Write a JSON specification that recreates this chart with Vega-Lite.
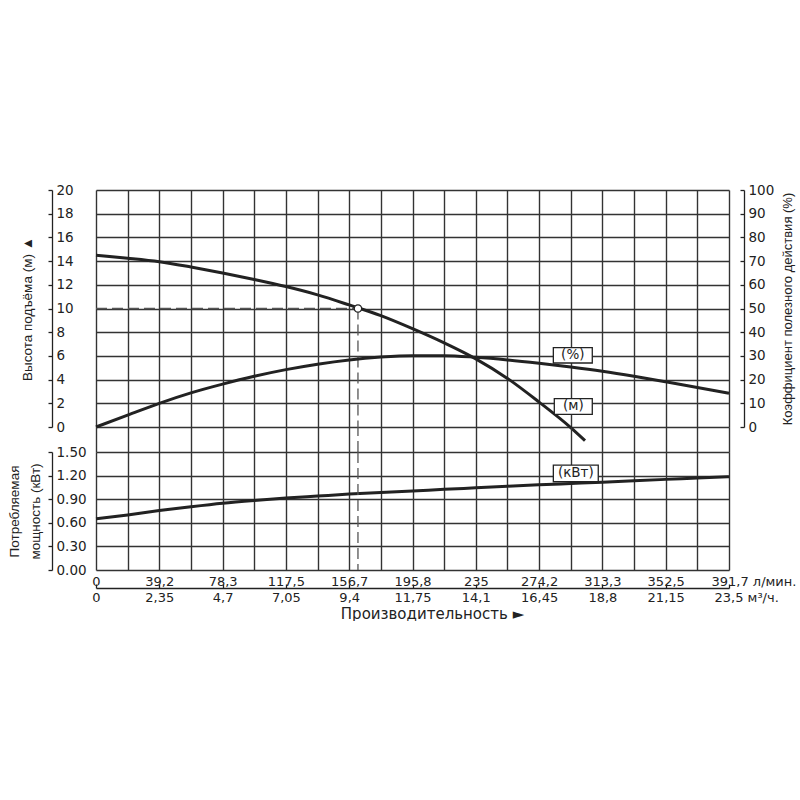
{
  "$schema": "https://vega.github.io/schema/vega-lite/v6.json",
  "background": "white",
  "padding": {"left": 7, "top": 183, "right": 0, "bottom": 0},
  "datasets": {
    "head": [
      {"flow": 0, "head": 14.5}, {"flow": 19.585, "head": 14.25}, {"flow": 39.17, "head": 13.95},
      {"flow": 58.755, "head": 13.5}, {"flow": 78.34, "head": 13.0}, {"flow": 97.925, "head": 12.45},
      {"flow": 117.51, "head": 11.85}, {"flow": 137.095, "head": 11.15}, {"flow": 156.68, "head": 10.3},
      {"flow": 176.265, "head": 9.4}, {"flow": 195.85, "head": 8.3}, {"flow": 215.435, "head": 7.1},
      {"flow": 235.02, "head": 5.75}, {"flow": 254.605, "head": 4.1}, {"flow": 274.19, "head": 2.1},
      {"flow": 293.775, "head": -0.05}, {"flow": 302.6, "head": -1.15}
    ],
    "eff": [
      {"flow": 0, "eff": 0}, {"flow": 19.585, "eff": 5.0}, {"flow": 39.17, "eff": 10.0},
      {"flow": 58.755, "eff": 14.4}, {"flow": 78.34, "eff": 18.1}, {"flow": 97.925, "eff": 21.4},
      {"flow": 117.51, "eff": 24.2}, {"flow": 137.095, "eff": 26.5}, {"flow": 156.68, "eff": 28.3},
      {"flow": 176.265, "eff": 29.5}, {"flow": 195.85, "eff": 30.1}, {"flow": 215.435, "eff": 30.1},
      {"flow": 235.02, "eff": 29.4}, {"flow": 254.605, "eff": 28.3}, {"flow": 274.19, "eff": 26.9},
      {"flow": 293.775, "eff": 25.3}, {"flow": 313.36, "eff": 23.5}, {"flow": 332.945, "eff": 21.4},
      {"flow": 352.53, "eff": 19.1}, {"flow": 372.115, "eff": 16.7}, {"flow": 391.7, "eff": 14.2}
    ],
    "power": [
      {"flow": 0, "kw": 0.65}, {"flow": 19.585, "kw": 0.7}, {"flow": 39.17, "kw": 0.755},
      {"flow": 58.755, "kw": 0.805}, {"flow": 78.34, "kw": 0.85}, {"flow": 97.925, "kw": 0.885},
      {"flow": 117.51, "kw": 0.915}, {"flow": 137.095, "kw": 0.94}, {"flow": 156.68, "kw": 0.965},
      {"flow": 176.265, "kw": 0.985}, {"flow": 195.85, "kw": 1.005}, {"flow": 215.435, "kw": 1.025},
      {"flow": 235.02, "kw": 1.045}, {"flow": 254.605, "kw": 1.065}, {"flow": 274.19, "kw": 1.083},
      {"flow": 293.775, "kw": 1.1}, {"flow": 313.36, "kw": 1.117}, {"flow": 332.945, "kw": 1.135},
      {"flow": 352.53, "kw": 1.152}, {"flow": 372.115, "kw": 1.168}, {"flow": 391.7, "kw": 1.185}
    ],
    "duty_h": [{"flow": 0, "flow2": 162.1, "head": 10}],
    "duty_v": [{"flow": 162.1, "head": 10, "head2": 0}],
    "duty_pt": [{"flow": 162.1, "head": 10}],
    "duty_gap": [{"flow": 162.1, "g": 0, "g2": 1}],
    "duty_kw": [{"flow": 162.1, "kw": 1.5, "kw2": 0}],
    "box_top": [
      {"flow": 283.0, "flow2": 307.1, "head": 6.7, "head2": 5.4},
      {"flow": 283.6, "flow2": 307.1, "head": 2.4, "head2": 1.07}
    ],
    "text_top": [
      {"flow": 295.05, "head": 6.05, "label": "(%)"},
      {"flow": 295.35, "head": 1.73, "label": "(м)"}
    ],
    "box_kw": [{"flow": 283.0, "flow2": 310.8, "kw": 1.334, "kw2": 1.122}],
    "text_kw": [{"flow": 296.9, "kw": 1.228, "label": "(кВт)"}]
  },
  "vconcat": [
    {
      "width": 633,
      "height": 237,
      "encoding": {
        "x": {
          "field": "flow", "type": "quantitative",
          "scale": {"domain": [0, 391.7], "nice": false, "zero": false},
          "axis": {
            "title": null, "labels": false, "ticks": false, "domain": false, "grid": true,
            "values": [0, 19.585, 39.17, 58.755, 78.34, 97.925, 117.51, 137.095, 156.68, 176.265, 195.85, 215.435, 235.02, 254.605, 274.19, 293.775, 313.36, 332.945, 352.53, 372.115, 391.7]
          }
        }
      },
      "layer": [
        {
          "encoding": {
            "y": {
              "field": "head", "type": "quantitative",
              "scale": {"domain": [0, 20], "nice": false, "zero": false},
              "axis": {
                "orient": "left", "offset": 44, "values": [0, 2, 4, 6, 8, 10, 12, 14, 16, 18, 20],
                "grid": true, "tickSize": 4, "labelAlign": "left", "labelPadding": -8,
                "labelFlush": false, "labelOverlap": false,
                "title": "Высота подъёма (м) ▲", "titlePadding": 13
              }
            }
          },
          "layer": [
            {
              "data": {"name": "duty_h"},
              "mark": {"type": "rule", "color": "#555", "strokeWidth": 1.3, "strokeDash": [11, 5]},
              "encoding": {"x2": {"field": "flow2"}}
            },
            {
              "data": {"name": "duty_v"},
              "mark": {"type": "rule", "color": "#555", "strokeWidth": 1.3, "strokeDash": [11, 5]},
              "encoding": {"y2": {"field": "head2"}}
            },
            {
              "data": {"name": "head"},
              "mark": {"type": "line", "interpolate": "monotone", "color": "#222", "strokeWidth": 3}
            },
            {
              "data": {"name": "duty_pt"},
              "mark": {"type": "point", "shape": "circle", "filled": true, "fill": "white", "stroke": "#222", "strokeWidth": 1.3, "size": 55, "opacity": 1}
            },
            {
              "data": {"name": "box_top"},
              "mark": {"type": "rect", "fill": "white", "stroke": "#222", "strokeWidth": 1.3},
              "encoding": {"x2": {"field": "flow2"}, "y2": {"field": "head2"}}
            },
            {
              "data": {"name": "text_top"},
              "mark": {"type": "text", "font": "DejaVu Sans", "fontSize": 13.5, "color": "#222"},
              "encoding": {"text": {"field": "label"}}
            }
          ]
        },
        {
          "data": {"name": "eff"},
          "mark": {"type": "line", "interpolate": "monotone", "color": "#222", "strokeWidth": 3},
          "encoding": {
            "y": {
              "field": "eff", "type": "quantitative",
              "scale": {"domain": [0, 100], "nice": false, "zero": false},
              "axis": {
                "orient": "right", "offset": 15, "values": [0, 10, 20, 30, 40, 50, 60, 70, 80, 90, 100],
                "grid": false, "tickSize": -4, "labelPadding": 8, "labelAlign": "left",
                "labelFlush": false, "labelOverlap": false,
                "title": "Коэффициент полезного действия (%)", "titleAngle": 270, "titleBaseline": "top",
                "titlePadding": 8, "titleFontSize": 13
              }
            }
          }
        }
      ],
      "resolve": {"scale": {"y": "independent"}, "axis": {"y": "independent"}}
    },
    {
      "width": 633,
      "height": 25,
      "data": {"name": "duty_gap"},
      "mark": {"type": "rule", "color": "#555", "strokeWidth": 1.3, "strokeDash": [11, 5]},
      "encoding": {
        "x": {
          "field": "flow", "type": "quantitative",
          "scale": {"domain": [0, 391.7], "nice": false, "zero": false},
          "axis": {
            "title": null, "labels": false, "ticks": false, "domain": false, "grid": true,
            "values": [0, 19.585, 39.17, 58.755, 78.34, 97.925, 117.51, 137.095, 156.68, 176.265, 195.85, 215.435, 235.02, 254.605, 274.19, 293.775, 313.36, 332.945, 352.53, 372.115, 391.7]
          }
        },
        "y": {"field": "g", "type": "quantitative", "scale": {"domain": [0, 1], "nice": false}, "axis": null},
        "y2": {"field": "g2"}
      }
    },
    {
      "width": 633,
      "height": 118,
      "encoding": {
        "y": {
          "field": "kw", "type": "quantitative",
          "scale": {"domain": [0, 1.5], "nice": false, "zero": false},
          "axis": {
            "orient": "left", "offset": 44, "values": [0, 0.3, 0.6, 0.9, 1.2, 1.5], "format": ".2f",
            "grid": true, "tickSize": 4, "labelAlign": "left", "labelPadding": -8,
            "labelFlush": false, "labelOverlap": false,
            "title": ["Потребляемая", "мощность (кВт)"], "titleLineHeight": 21, "titlePadding": 5
          }
        }
      },
      "layer": [
        {
          "data": {"name": "power"},
          "mark": {"type": "line", "interpolate": "monotone", "color": "#222", "strokeWidth": 3},
          "encoding": {
            "x": {
              "field": "flow", "type": "quantitative",
              "scale": {"domain": [0, 391.7], "nice": false, "zero": false},
              "axis": {
                "title": null, "ticks": false, "domain": false, "grid": true, "labelPadding": 5,
                "labelFlush": false, "labelOverlap": false, "labelFontSize": 13,
                "values": [0, 19.585, 39.17, 58.755, 78.34, 97.925, 117.51, 137.095, 156.68, 176.265, 195.85, 215.435, 235.02, 254.605, 274.19, 293.775, 313.36, 332.945, 352.53, 372.115, 391.7],
                "labelExpr": "round(datum.index*20) % 2 ? '' : ['0','39,2','78,3','117,5','156,7','195,8','235','274,2','313,3','352,5','391,7 л/мин.'][round(datum.index*10)]",
                "labelAlign": {"condition": {"test": "datum.value > 390", "value": "left"}, "value": "center"},
                "labelOffset": {"condition": {"test": "datum.value > 390", "value": -18}, "value": 0}
              }
            }
          }
        },
        {
          "data": {"name": "duty_kw"},
          "mark": {"type": "rule", "color": "#555", "strokeWidth": 1.3, "strokeDash": [11, 5]},
          "encoding": {
            "x": {
              "field": "flow", "type": "quantitative",
              "axis": {
                "orient": "bottom", "offset": 18, "grid": false, "tickSize": -4, "labelPadding": 7,
                "labelFlush": false, "labelOverlap": false, "labelFontSize": 13,
                "values": [0, 39.17, 78.34, 117.51, 156.68, 195.85, 235.02, 274.19, 313.36, 352.53, 391.7],
                "labelExpr": "['0','2,35','4,7','7,05','9,4','11,75','14,1','16,45','18,8','21,15','23,5  м³/ч.'][round(datum.index*10)]",
                "labelAlign": {"condition": {"test": "datum.value > 390", "value": "left"}, "value": "center"},
                "labelOffset": {"condition": {"test": "datum.value > 390", "value": -15}, "value": 0},
                "title": "Производительность ►", "titleFont": "DejaVu Sans", "titleFontSize": 15,
                "titlePadding": 2, "titleX": 336
              }
            },
            "y2": {"field": "kw2"}
          }
        },
        {
          "data": {"name": "box_kw"},
          "mark": {"type": "rect", "fill": "white", "stroke": "#222", "strokeWidth": 1.3},
          "encoding": {
            "x": {"field": "flow", "type": "quantitative", "axis": null},
            "x2": {"field": "flow2"},
            "y2": {"field": "kw2"}
          }
        },
        {
          "data": {"name": "text_kw"},
          "mark": {"type": "text", "font": "DejaVu Sans", "fontSize": 13.5, "color": "#222"},
          "encoding": {
            "x": {"field": "flow", "type": "quantitative", "axis": null},
            "text": {"field": "label"}
          }
        }
      ],
      "resolve": {"axis": {"x": "independent"}}
    }
  ],
  "spacing": 0,
  "bounds": "flush",
  "config": {
    "view": {"stroke": null},
    "axis": {
      "labelFont": "DejaVu Sans", "labelFontSize": 13.5, "labelColor": "#222",
      "titleFont": "Liberation Sans", "titleFontSize": 13.5, "titleFontWeight": "normal", "titleColor": "#222",
      "domainColor": "#222", "domainWidth": 1.3, "tickColor": "#222", "tickWidth": 1.3,
      "gridColor": "#333", "gridWidth": 1.4, "gridOpacity": 1
    }
  }
}
